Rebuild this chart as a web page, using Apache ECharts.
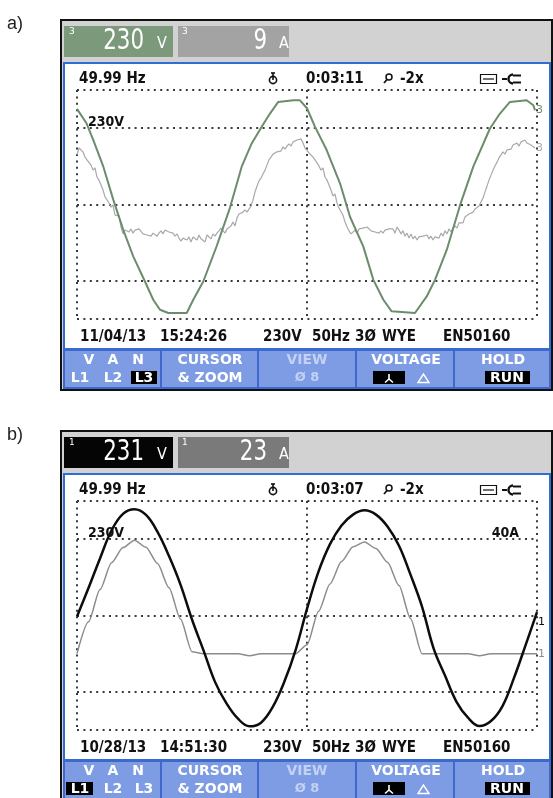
<!DOCTYPE html>
<html><head><meta charset="utf-8">
<script src="https://cdn.jsdelivr.net/npm/echarts@6/dist/echarts.min.js"></script>
<style>html,body{margin:0;padding:0;background:#fff}#c{width:553px;height:798px}</style>
</head><body><div id="c"></div>
<script>
// ---------- DATA ----------
// Panel a) L3: voltage (V) at time (ms)
const aVoltT = [0,0.84,1.42,2.29,3.16,4.03,4.90,5.91,6.63,7.22,7.94,9.54,10.11,10.98,12.15,13.30,14.32,15.19,16.06,16.78,17.50,18.81,19.39,20.0,20.70,21.71,22.87,23.74,24.90,25.77,26.64,27.36,29.39,30.41,31.13,32.15,33.31,34.46,35.91,36.78,37.65,39.10,39.68,39.83];
const aVoltV = [288,244,194,114,14,-77,-157,-232,-287,-317,-327,-327,-287,-232,-125,-10,114,184,234,274,309,314,314,290,234,164,64,-37,-127,-227,-287,-322,-327,-277,-227,-137,-2,114,229,274,309,314,299,284];
// Panel a) L3: current (A), 230 samples over 40 ms
const aCurrSamplePeriodMs = 40 / 230;
const aCurr = [13.0,14.8,15.1,13.8,12.4,11.7,12.2,10.3,9.0,9.6,
7.2,6.4,6.9,3.8,2.0,2.5,0.4,-0.7,-0.1,-2.8,
-3.3,-3.0,-5.9,-7.7,-6.7,-6.2,-7.2,-6.4,-7.5,-6.7,
-7.2,-6.4,-6.9,-7.7,-7.2,-8.0,-7.5,-8.3,-7.5,-8.0,
-8.3,-7.5,-6.9,-7.7,-6.7,-6.4,-7.2,-6.7,-7.5,-8.3,
-7.7,-8.8,-9.6,-8.8,-8.3,-9.3,-8.5,-9.8,-8.5,-8.3,
-9.3,-8.0,-9.0,-8.8,-9.8,-8.0,-8.3,-9.0,-7.7,-8.3,
-7.5,-6.9,-6.2,-6.7,-7.5,-6.4,-6.9,-5.6,-4.6,-5.6,
-3.5,-2.5,-3.0,-2.0,-1.4,-2.0,-1.2,-0.4,1.2,3.3,
4.8,6.2,6.9,8.0,9.0,8.5,11.7,12.4,13.2,13.0,
13.8,14.3,14.0,15.1,14.5,15.3,15.9,15.3,16.4,16.1,
16.9,16.4,17.2,16.1,14.8,14.3,13.5,14.0,12.4,11.7,
12.2,10.1,9.0,9.6,7.2,6.4,6.9,3.8,2.2,2.8,
0.4,-0.9,-0.4,-2.8,-4.6,-5.9,-6.9,-7.7,-7.2,-6.7,
-7.5,-6.4,-6.9,-6.2,-6.7,-5.9,-6.4,-6.9,-6.4,-7.2,
-6.7,-7.5,-6.9,-7.5,-6.7,-7.2,-6.4,-6.9,-6.4,-7.5,
-5.9,-6.7,-7.7,-6.9,-8.3,-7.5,-8.8,-7.7,-9.0,-8.3,
-9.3,-8.5,-9.0,-8.3,-8.8,-8.0,-9.0,-8.3,-9.3,-8.5,
-8.0,-8.8,-7.5,-8.3,-6.9,-7.7,-6.4,-7.2,-6.2,-5.6,
-6.2,-4.8,-4.3,-4.8,-3.3,-3.8,-2.5,-2.2,-2.0,-1.2,
-1.4,-0.4,-0.1,1.7,3.3,4.8,6.4,7.7,9.0,10.1,
11.1,12.2,12.7,13.8,13.2,14.3,14.8,14.5,15.6,15.1,
16.1,15.3,16.4,15.9,16.9,16.1,16.6,15.6,16.1,14.8];
// Panel b) L1: 1 ms samples, 0..40 ms
const bSamplePeriodMs = 1;
const bVolt = [-3,83,172,256,306,320,303,252,179,93,-12,-105,-200,-265,-311,-334,-323,-277,-202,-105,20,132,215,271,304,317,304,268,210,123,27,-98,-181,-260,-308,-333,-318,-273,-188,-90,10];
const bCurr = [0,12.5,25.2,35.7,41.7,44.6,41.8,35.4,25.9,13.6,0.8,0,0,0,0,-0.8,0,0,0,0,3.5,16.6,27.4,36.2,42.0,43.9,41.3,35.9,26.8,13.8,0,0,0,0,0,-0.8,0,0,0,0,0];

// Texts
const panelLabels = ['a)', 'b)'];
const phaseNo = ['3', '1'];
const readVolt = ['230', '231'];
const readAmp = ['9', '23'];
const freq = ['49.99 Hz', '49.99 Hz'];
const elapsed = ['0:03:11', '0:03:07'];
const dates = ['11/04/13', '10/28/13'];
const clocks = ['15:24:26', '14:51:30'];
const nominal = ['230V', '50Hz', '3Ø', 'WYE', 'EN50160'];
const scaleLabelV = '230V';
const scaleLabelA = ['', '40A'];

// ---------- CHART ----------
const chart = echarts.init(document.getElementById('c'), null, {renderer: 'canvas'});
const DY = 411;
const FB = '"DejaVu Sans Condensed","DejaVu Sans",sans-serif';
const FBTN = '"DejaVu Sans",sans-serif';
const dotStyle = {type: [2, 4.4], color: '#3a3a3a', width: 2};

function txt(x, y, text, o) {
  o = o || {};
  const e = {type: 'text', x: x, y: y, z: o.z || 20, silent: true,
    style: {text: text, fill: o.fill || '#111', fontSize: o.size || 14, fontWeight: o.weight || 'bold',
      fontFamily: o.family || FB, textAlign: o.align || 'left', align: o.align || 'left',
      textVerticalAlign: 'middle', verticalAlign: 'middle'}};
  if (o.sx) { e.scaleX = o.sx; e.originX = 0; e.originY = 0; }
  return e;
}
function rect(x, y, w, h, fill, o) {
  o = o || {};
  return {type: 'rect', z: o.z || 1, silent: true, shape: {x: x, y: y, width: w, height: h},
    style: {fill: fill, stroke: o.stroke || null, lineWidth: o.lw || 0}};
}
function line(x1, y1, x2, y2, color, w, z) {
  return {type: 'line', z: z || 20, silent: true, shape: {x1: x1, y1: y1, x2: x2, y2: y2},
    style: {stroke: color, lineWidth: w}};
}

function panelGraphics(i) {
  const dy = i * DY;
  const g = [];
  g.push(txt(7, 24 + dy, panelLabels[i], {size: 18, weight: 'normal', family: '"Liberation Sans",Arial,sans-serif', fill: '#222'}));
  // outer frame + header
  g.push(rect(61, 20 + dy, 491, 370, '#d2d2d2', {stroke: '#111', lw: 2, z: 0}));
  // reading boxes
  g.push(rect(64, 26 + dy, 109, 31, i === 0 ? '#7c997c' : '#050505', {z: 1}));
  g.push(rect(178, 26 + dy, 111, 31, i === 0 ? '#a3a3a3' : '#7a7a7a', {z: 1}));
  g.push(txt(69, 32 + dy, phaseNo[i], {size: 9, weight: 'normal', fill: '#fff', family: '"DejaVu Sans",sans-serif'}));
  g.push(txt(182, 32 + dy, phaseNo[i], {size: 9, weight: 'normal', fill: '#fff', family: '"DejaVu Sans",sans-serif'}));
  const dig = '"DejaVu Sans Condensed","DejaVu Sans",sans-serif';
  g.push(txt(144, 41 + dy, readVolt[i], {size: 29, weight: 'normal', fill: '#fff', family: dig, align: 'right', sx: 0.82}));
  g.push(txt(157, 44 + dy, 'V', {size: 16, weight: 'normal', fill: '#fff', family: dig}));
  g.push(txt(267, 41 + dy, readAmp[i], {size: 29, weight: 'normal', fill: '#fff', family: dig, align: 'right', sx: 0.82}));
  g.push(txt(279, 44 + dy, 'A', {size: 16, weight: 'normal', fill: '#fff', family: dig}));
  // white screen
  g.push(rect(64, 63 + dy, 486, 286, '#ffffff', {stroke: '#2f6fd3', lw: 2, z: 1}));
  // info line
  g.push(txt(79, 79 + dy, freq[i], {size: 15}));
  // stopwatch
  g.push({type: 'circle', z: 20, silent: true, shape: {cx: 273, cy: 80 + dy, r: 3.6}, style: {fill: 'none', stroke: '#111', lineWidth: 1.6}});
  g.push(line(273, 73 + dy, 273, 80 + dy, '#111', 1.6));
  g.push(line(271, 73 + dy, 275, 73 + dy, '#111', 1.6));
  g.push(txt(306, 79 + dy, elapsed[i], {size: 15}));
  // magnifier
  g.push({type: 'circle', z: 20, silent: true, shape: {cx: 389, cy: 77 + dy, r: 3}, style: {fill: 'none', stroke: '#111', lineWidth: 1.5}});
  g.push(line(387, 79.5 + dy, 384, 83 + dy, '#111', 1.8));
  g.push(txt(400, 79 + dy, '-2x', {size: 15}));
  // cassette
  g.push({type: 'rect', z: 20, silent: true, shape: {x: 480.5, y: 74.5 + dy, width: 16, height: 9}, style: {fill: 'none', stroke: '#111', lineWidth: 1.2}});
  g.push(line(483, 79 + dy, 494, 79 + dy, '#111', 1.2));
  // plug
  g.push(line(502, 79 + dy, 507, 79 + dy, '#111', 2));
  g.push({type: 'arc', z: 20, silent: true, shape: {cx: 513, cy: 79 + dy, r: 4.5, startAngle: Math.PI / 2, endAngle: Math.PI * 1.5, clockwise: true}, style: {fill: 'none', stroke: '#111', lineWidth: 2.4}});
  g.push(line(513, 75.5 + dy, 521, 75.5 + dy, '#111', 2));
  g.push(line(513, 82.5 + dy, 521, 82.5 + dy, '#111', 2));
  // plot labels (beneath the traces)
  g.push(txt(88, 122 + dy, scaleLabelV, {size: 14, z: 3}));
  if (scaleLabelA[i]) g.push(txt(519, 122 + dy, scaleLabelA[i], {size: 14, align: 'right', z: 3}));
  // bottom status line
  g.push(txt(80, 337 + dy, dates[i], {size: 15}));
  g.push(txt(160, 337 + dy, clocks[i], {size: 15}));
  g.push(txt(263, 337 + dy, nominal[0], {size: 15}));
  g.push(txt(312, 337 + dy, nominal[1], {size: 15}));
  g.push(txt(355, 337 + dy, nominal[2], {size: 15}));
  g.push(txt(382, 337 + dy, nominal[3], {size: 15}));
  g.push(txt(443, 337 + dy, nominal[4], {size: 15}));
  // button bar
  g.push(rect(63, 349 + dy, 488, 40, '#3e68cd', {z: 2}));
  const bx = [[65, 95], [162, 95], [259, 96], [357, 96], [455, 94]];
  bx.forEach(b => g.push(rect(b[0], 351 + dy, b[1], 36, '#7d9ce3', {z: 3})));
  const W = '#ffffff';
  const bo = (s) => ({size: s || 14, fill: W, family: FBTN, align: 'center'});
  g.push(txt(89, 360 + dy, 'V', bo()));
  g.push(txt(113, 360 + dy, 'A', bo()));
  g.push(txt(138, 360 + dy, 'N', bo()));
  const sel = i === 0 ? 2 : 0;
  const lx = [[66, 27], [100, 26], [131, 26]];
  g.push(rect(lx[sel][0], 371 + dy, lx[sel][1], 13, '#000', {z: 4}));
  g.push(txt(80, 378 + dy, 'L1', bo()));
  g.push(txt(113, 378 + dy, 'L2', bo()));
  g.push(txt(144, 378 + dy, 'L3', bo()));
  g.push(txt(210, 360 + dy, 'CURSOR', bo()));
  g.push(txt(210, 378 + dy, '& ZOOM', bo()));
  g.push(txt(307, 360 + dy, 'VIEW', {size: 14, fill: '#c3d1f4', family: FBTN, align: 'center'}));
  g.push(txt(307, 378 + dy, 'Ø 8', {size: 13, fill: '#c3d1f4', family: FBTN, align: 'center'}));
  g.push(txt(406, 360 + dy, 'VOLTAGE', bo()));
  g.push(rect(373, 371 + dy, 32, 13, '#000', {z: 4}));
  g.push(line(389, 374 + dy, 389, 379 + dy, W, 1.6, 21));
  g.push(line(389, 379 + dy, 385, 382.5 + dy, W, 1.6, 21));
  g.push(line(389, 379 + dy, 393, 382.5 + dy, W, 1.6, 21));
  g.push({type: 'polygon', z: 21, silent: true, shape: {points: [[423.5, 374 + dy], [418, 382.5 + dy], [429, 382.5 + dy]]}, style: {fill: 'none', stroke: W, lineWidth: 1.4}});
  g.push(txt(503, 360 + dy, 'HOLD', bo()));
  g.push(rect(485, 371 + dy, 45, 13, '#000', {z: 4}));
  g.push(txt(507, 378 + dy, 'RUN', bo()));
  return g;
}

const pairsT = (t, v) => t.map((x, k) => [x, v[k]]);
const pairsDt = (dt, v) => v.map((y, k) => [k * dt, y]);

const gridLineMark = {
  silent: true, symbol: ['none', 'none'], label: {show: false}, animation: false,
  lineStyle: dotStyle, emphasis: {disabled: true},
  data: [{yAxis: 230}, {yAxis: -230}]
};

const axisHidden = {axisLine: {show: false}, axisTick: {show: false}, axisLabel: {show: false}};

const option = {
  animation: false,
  backgroundColor: '#ffffff',
  grid: [
    {left: 77, top: 90, width: 460, height: 229, z: 5},
    {left: 77, top: 90 + DY, width: 460, height: 229, z: 5}
  ],
  xAxis: [0, 1].map(g => Object.assign({gridIndex: g, type: 'value', min: 0, max: 40, interval: 20, z: 5,
    splitLine: {show: true, lineStyle: dotStyle}}, axisHidden)),
  yAxis: [
    Object.assign({gridIndex: 0, type: 'value', min: -345, max: 345, interval: 345, z: 5, splitLine: {show: true, lineStyle: dotStyle}}, axisHidden),
    Object.assign({gridIndex: 0, type: 'value', min: -30, max: 30, position: 'right', splitLine: {show: false}}, axisHidden),
    Object.assign({gridIndex: 1, type: 'value', min: -345, max: 345, interval: 345, z: 5, splitLine: {show: true, lineStyle: dotStyle}}, axisHidden),
    Object.assign({gridIndex: 1, type: 'value', min: -30, max: 60, position: 'right', splitLine: {show: false}}, axisHidden)
  ],
  graphic: {elements: panelGraphics(0).concat(panelGraphics(1))},
  series: [
    {name: 'a current L3', type: 'line', xAxisIndex: 0, yAxisIndex: 1, z: 6, symbol: 'none', silent: true,
      data: pairsDt(aCurrSamplePeriodMs, aCurr), lineStyle: {color: '#a9a9a9', width: 1.2},
      endLabel: {show: true, formatter: phaseNo[0], color: '#a9a9a9', fontSize: 11, distance: 1, fontFamily: '"DejaVu Sans",sans-serif'}},
    {name: 'a voltage L3', type: 'line', xAxisIndex: 0, yAxisIndex: 0, z: 7, symbol: 'none', silent: true,
      data: pairsT(aVoltT, aVoltV), lineStyle: {color: '#6c8c6c', width: 2}, markLine: gridLineMark,
      endLabel: {show: true, formatter: phaseNo[0], color: '#6c8c6c', fontSize: 11, distance: 1, fontFamily: '"DejaVu Sans",sans-serif'}},
    {name: 'b current L1', type: 'line', xAxisIndex: 1, yAxisIndex: 3, z: 6, symbol: 'none', silent: true,
      smooth: 0.25, smoothMonotone: 'x',
      data: pairsDt(bSamplePeriodMs, bCurr), lineStyle: {color: '#8c8c8c', width: 1.5},
      endLabel: {show: true, formatter: phaseNo[1], color: '#8c8c8c', fontSize: 11, distance: 1, fontFamily: '"DejaVu Sans",sans-serif'}},
    {name: 'b voltage L1', type: 'line', xAxisIndex: 1, yAxisIndex: 2, z: 7, symbol: 'none', silent: true,
      smooth: 0.4,
      data: pairsDt(bSamplePeriodMs, bVolt), lineStyle: {color: '#0d0d0d', width: 2.5}, markLine: gridLineMark,
      endLabel: {show: true, formatter: phaseNo[1], color: '#0d0d0d', fontSize: 11, distance: 1, offset: [0, 10], fontFamily: '"DejaVu Sans",sans-serif'}}
  ]
};
chart.setOption(option);
</script></body></html>
